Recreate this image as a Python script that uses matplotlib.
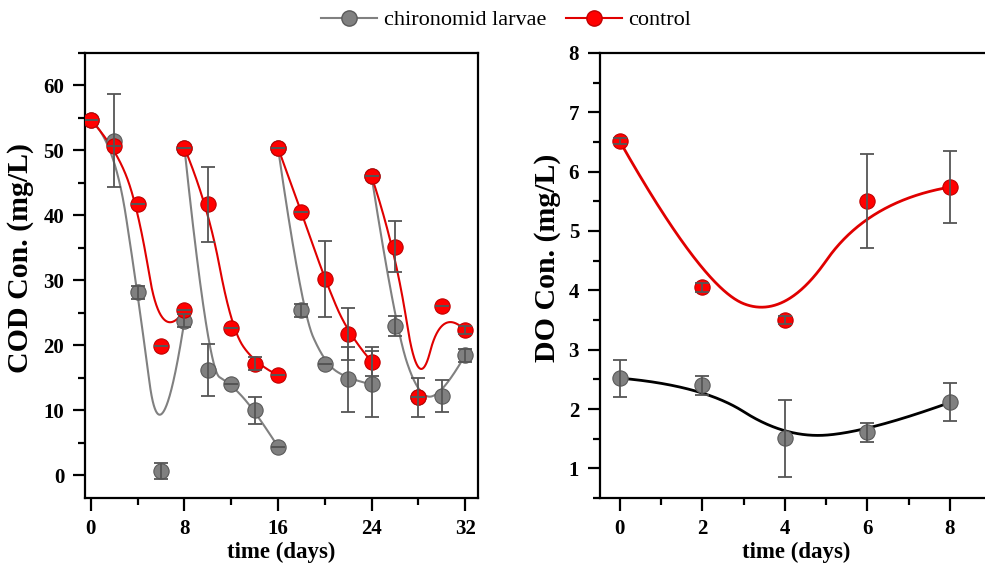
import numpy as np
import matplotlib
matplotlib.use("Agg")
import matplotlib.pyplot as plt
from matplotlib.lines import Line2D
from matplotlib.ticker import MultipleLocator

plt.rcParams['font.family'] = ['Liberation Serif', 'DejaVu Serif']

# ---------------- data: COD (left panel), four feeding cycles ----------------
cod_days = [[0, 2, 4, 6, 8], [8, 10, 12, 14, 16], [16, 18, 20, 22, 24], [24, 26, 28, 30, 32]]
larvae_cod = [[54.7, 51.5, 28.2, 0.7, 23.8],
              [50.4, 16.2, 14.0, 10.0, 4.4],
              [50.4, 25.4, 17.2, 14.8, 14.0],
              [46.0, 23.0, 12.0, 12.2, 18.5]]
larvae_cod_err = [[0.0, 7.2, 1.0, 1.2, 1.0],
                  [0.0, 4.0, 0.0, 2.1, 0.0],
                  [0.0, 1.0, 0.0, 5.0, 5.1],
                  [0.0, 1.5, 3.0, 2.5, 1.0]]
control_cod = [[54.7, 50.7, 41.7, 19.9, 25.4],
               [50.4, 41.7, 22.6, 17.2, 15.4],
               [50.4, 40.5, 30.2, 21.7, 17.5],
               [46.0, 35.2, 12.0, 26.0, 22.3]]
control_cod_err = [[0.0, 0.0, 0.0, 0.0, 0.0],
                   [0.0, 5.8, 0.0, 1.0, 0.0],
                   [0.0, 0.0, 5.9, 4.0, 2.2],
                   [0.0, 3.9, 0.0, 0.0, 0.6]]

# ---------------- data: DO (right panel) ----------------
do_days = [0, 2, 4, 6, 8]
larvae_do = [2.52, 2.40, 1.51, 1.61, 2.11]
larvae_do_err = [0.31, 0.16, 0.65, 0.16, 0.32]
control_do = [6.51, 4.05, 3.50, 5.50, 5.74]
control_do_err = [0.05, 0.08, 0.06, 0.79, 0.61]

labels = ['chironomid larvae', 'control']

GREY_FACE = '#808080'
GREY_EDGE = '#5a5a5a'
RED_FACE = '#ff0000'
RED_EDGE = '#c00000'
ERR_COL = '#555555'


def bspline(xs, ys, n=400, k=2):
    """Clamped uniform B-spline using the data points as control points."""
    P = np.column_stack([xs, ys]).astype(float)
    m = len(P)
    k = min(k, m - 1)
    knots = np.concatenate([np.zeros(k), np.linspace(0, 1, m - k + 1), np.ones(k)])
    t = np.linspace(0, 1, n)
    nb = len(knots) - 1
    N = np.zeros((n, nb))
    for i in range(nb):
        N[:, i] = (t >= knots[i]) & (t < knots[i + 1])
    last = max(i for i in range(nb) if knots[i] < knots[i + 1])
    N[-1, :] = 0
    N[-1, last] = 1
    for p in range(1, k + 1):
        Nn = np.zeros((n, nb - p))
        for i in range(nb - p):
            d1 = knots[i + p] - knots[i]
            d2 = knots[i + p + 1] - knots[i + 1]
            a = (t - knots[i]) / d1 * N[:, i] if d1 > 0 else 0
            b = (knots[i + p + 1] - t) / d2 * N[:, i + 1] if d2 > 0 else 0
            Nn[:, i] = a + b
        N = Nn
    C = N @ P
    return C[:, 0], C[:, 1]


fig = plt.figure(figsize=(9.85, 5.76), dpi=100)
ax1 = fig.add_axes([0.0863, 0.1354, 0.399, 0.7726])
ax2 = fig.add_axes([0.609, 0.1354, 0.399, 0.7726])

ms = 11
lw_err = 1.3
cap = 5


def draw_series(ax, x, y, e, face, edge, line_col, lw, z):
    cx, cy = bspline(x, y)
    ax.plot(cx, cy, color=line_col, lw=lw, zorder=z, solid_capstyle='round')
    ax.plot(x, y, 'o', ms=ms, mfc=face, mec=edge, mew=0.8, zorder=z + 2, ls='none')
    ee = np.array(e, dtype=float)
    ax.errorbar(x, y, yerr=ee, fmt='none', ecolor=ERR_COL, elinewidth=lw_err,
                capsize=cap, capthick=lw_err, zorder=z + 4)


# left panel
for d, yv, ev in zip(cod_days, larvae_cod, larvae_cod_err):
    draw_series(ax1, d, yv, ev, GREY_FACE, GREY_EDGE, '#808080', 1.5, 2)
for d, yv, ev in zip(cod_days, control_cod, control_cod_err):
    draw_series(ax1, d, yv, ev, RED_FACE, RED_EDGE, '#e00000', 1.5, 3)

ax1.set_xlim(-0.5, 33.1)
ax1.set_ylim(-3.5, 65)
ax1.xaxis.set_major_locator(MultipleLocator(8))
ax1.xaxis.set_minor_locator(MultipleLocator(4))
ax1.yaxis.set_major_locator(MultipleLocator(10))
ax1.yaxis.set_minor_locator(MultipleLocator(5))
ax1.set_xlabel('time (days)', fontsize=16.5, fontweight='bold', labelpad=2)
ax1.set_ylabel('COD Con. (mg/L)', fontsize=21.5, fontweight='bold')
ax1.yaxis.set_label_coords(-0.13, 0.54)

# right panel
draw_series(ax2, do_days, larvae_do, larvae_do_err, GREY_FACE, GREY_EDGE, '#000000', 2.0, 2)
draw_series(ax2, do_days, control_do, control_do_err, RED_FACE, RED_EDGE, '#e00000', 2.0, 3)
ax2.set_xlim(-0.485, 9.04)
ax2.set_ylim(0.5, 8)
ax2.xaxis.set_major_locator(MultipleLocator(2))
ax2.xaxis.set_minor_locator(MultipleLocator(1))
ax2.yaxis.set_major_locator(MultipleLocator(1))
ax2.yaxis.set_minor_locator(MultipleLocator(0.5))
ax2.set_xlabel('time (days)', fontsize=16.5, fontweight='bold', labelpad=2)
ax2.set_ylabel('DO Con. (mg/L)', fontsize=21.5, fontweight='bold')
ax2.yaxis.set_label_coords(-0.10, 0.54)

for ax in (ax1, ax2):
    for s in ax.spines.values():
        s.set_linewidth(1.6)
    ax.tick_params(which='major', direction='out', length=9, width=1.6, labelsize=15, pad=6)
    ax.tick_params(which='minor', direction='out', length=5, width=1.6)
    for lab in ax.get_xticklabels() + ax.get_yticklabels():
        lab.set_fontweight('bold')
ax2.spines['right'].set_visible(False)

handles = [Line2D([], [], color='#808080', lw=1.5, marker='o', ms=ms, mfc=GREY_FACE, mec=GREY_EDGE),
           Line2D([], [], color='#e00000', lw=1.5, marker='o', ms=ms, mfc=RED_FACE, mec=RED_EDGE)]
fig.legend(handles, labels, loc='center', bbox_to_anchor=(0.514, 0.965), ncol=2, frameon=False,
           fontsize=16, handlelength=2.5, handletextpad=0.3, columnspacing=0.9)

fig.savefig('out.png', dpi=100)
